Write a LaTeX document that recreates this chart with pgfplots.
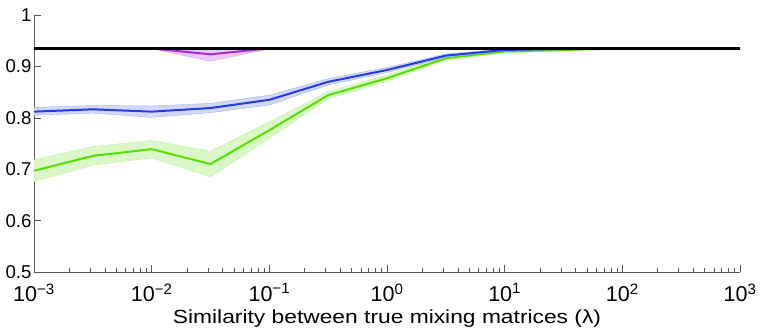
\documentclass[border=0pt]{standalone}
\usepackage{pgfplots}
\pgfplotsset{compat=1.18}
\usepgfplotslibrary{fillbetween}
\usepackage{fontspec}
\setmainfont{Liberation Sans}
\newfontfamily\stretchfont{Liberation Sans}[FakeStretch=1.2]
\definecolor{cblue}{RGB}{35,60,235}
\definecolor{cgreen}{RGB}{85,225,0}
\definecolor{cmag}{RGB}{170,40,225}
\begin{document}
\begin{tikzpicture}
\begin{axis}[
  name=ax,
  scale only axis,
  width=706pt, height=257pt,
  xmode=log, log basis x=10,
  xmin=1e-3, xmax=1e3, ymin=0.5, ymax=1,
  axis x line*=bottom, axis y line*=left,
  axis line style={black!65, line width=0.6pt},
  every tick/.style={black!65, line width=0.6pt},
  major tick length=7pt, minor tick length=3.5pt,
  tick align=inside,
  xtick={1e-3,1e-2,1e-1,1,10,100,1000},
  minor xtick={2e-3,3e-3,4e-3,5e-3,6e-3,7e-3,8e-3,9e-3,
               2e-2,3e-2,4e-2,5e-2,6e-2,7e-2,8e-2,9e-2,
               0.2,0.3,0.4,0.5,0.6,0.7,0.8,0.9,
               2,3,4,5,6,7,8,9,
               20,30,40,50,60,70,80,90,
               200,300,400,500,600,700,800,900},
  xticklabels={10\textsuperscript{−3},10\textsuperscript{−2},10\textsuperscript{−1},10\textsuperscript{0},10\textsuperscript{1},10\textsuperscript{2},10\textsuperscript{3}},
  ytick={0.5,0.6,0.7,0.8,0.9,1},
  yticklabels={0.5,0.6,0.7,0.8,0.9,1},
  xticklabel style={font=\fontsize{21.5}{24}\selectfont, yshift=-8pt},
  yticklabel style={font=\fontsize{18.6}{21}\selectfont, xshift=1pt},
  xlabel={Similarity between true mixing matrices (λ)},
  xlabel style={font=\stretchfont\fontsize{19}{22}\selectfont, yshift=-1pt},
  clip=false,
]
% green
\addplot[name path=gu, draw=cgreen!40, line width=0.4pt, forget plot] coordinates {
(1e-3,0.718)(3.162e-3,0.744)(1e-2,0.756)(3.162e-2,0.735)(1e-1,0.792)(3.162e-1,0.851)(1,0.883)(3.162,0.920)(10,0.932)(31.62,0.934)(100,0.935)(316.2,0.935)(1000,0.935)};
\addplot[name path=gl, draw=cgreen!40, line width=0.4pt, forget plot] coordinates {
(1e-3,0.676)(3.162e-3,0.708)(1e-2,0.722)(3.162e-2,0.685)(1e-1,0.760)(3.162e-1,0.837)(1,0.871)(3.162,0.912)(10,0.926)(31.62,0.930)(100,0.935)(316.2,0.935)(1000,0.935)};
\addplot[cgreen!22, forget plot] fill between[of=gu and gl];
\addplot[cgreen, line width=2pt] coordinates {
(1e-3,0.697)(3.162e-3,0.726)(1e-2,0.739)(3.162e-2,0.710)(1e-1,0.776)(3.162e-1,0.844)(1,0.877)(3.162,0.916)(10,0.929)(31.62,0.932)(100,0.935)(316.2,0.935)(1000,0.935)};
% blue
\addplot[name path=bu, draw=cblue!40, line width=0.4pt, forget plot] coordinates {
(1e-3,0.820)(3.162e-3,0.824)(1e-2,0.823)(3.162e-2,0.828)(1e-1,0.844)(3.162e-1,0.876)(1,0.898)(3.162,0.924)(10,0.934)(31.62,0.935)(100,0.935)(316.2,0.935)(1000,0.935)};
\addplot[name path=bl, draw=cblue!40, line width=0.4pt, forget plot] coordinates {
(1e-3,0.805)(3.162e-3,0.809)(1e-2,0.801)(3.162e-2,0.810)(1e-1,0.825)(3.162e-1,0.864)(1,0.888)(3.162,0.918)(10,0.930)(31.62,0.933)(100,0.935)(316.2,0.935)(1000,0.935)};
\addplot[cblue!20, forget plot] fill between[of=bu and bl];
\addplot[cblue, line width=2pt] coordinates {
(1e-3,0.812)(3.162e-3,0.8165)(1e-2,0.812)(3.162e-2,0.819)(1e-1,0.835)(3.162e-1,0.870)(1,0.893)(3.162,0.921)(10,0.932)(31.62,0.934)(100,0.935)(316.2,0.935)(1000,0.935)};
% magenta
\addplot[name path=mu, draw=cmag!40, line width=0.4pt, forget plot] coordinates {
(1e-3,0.936)(3.162e-3,0.936)(1e-2,0.936)(3.162e-2,0.932)(1e-1,0.936)(3.162e-1,0.936)(1,0.936)(3.162,0.936)(10,0.936)(31.62,0.936)(100,0.936)(316.2,0.936)(1000,0.936)};
\addplot[name path=ml, draw=cmag!40, line width=0.4pt, forget plot] coordinates {
(1e-3,0.934)(3.162e-3,0.933)(1e-2,0.934)(3.162e-2,0.910)(1e-1,0.934)(3.162e-1,0.934)(1,0.934)(3.162,0.934)(10,0.934)(31.62,0.934)(100,0.934)(316.2,0.934)(1000,0.934)};
\addplot[cmag!25, forget plot] fill between[of=mu and ml];
\addplot[cmag, line width=2pt] coordinates {
(1e-3,0.935)(3.162e-3,0.935)(1e-2,0.935)(3.162e-2,0.9235)(1e-1,0.935)(3.162e-1,0.935)(1,0.935)(3.162,0.935)(10,0.935)(31.62,0.935)(100,0.935)(316.2,0.935)(1000,0.935)};
% black
\addplot[black, line width=2.2pt] coordinates {
(1e-3,0.935)(3.162e-3,0.935)(1e-2,0.935)(3.162e-2,0.935)(1e-1,0.935)(3.162e-1,0.935)(1,0.935)(3.162,0.935)(10,0.935)(31.62,0.935)(100,0.935)(316.2,0.935)(1000,0.935)};
\coordinate (sw) at (rel axis cs:0,0);
\coordinate (ne) at (rel axis cs:1,1);
\end{axis}
\pgfresetboundingbox
\path ([xshift=-34pt,yshift=-60pt]sw) rectangle ([xshift=21pt,yshift=15pt]ne);
\end{tikzpicture}
\end{document}
